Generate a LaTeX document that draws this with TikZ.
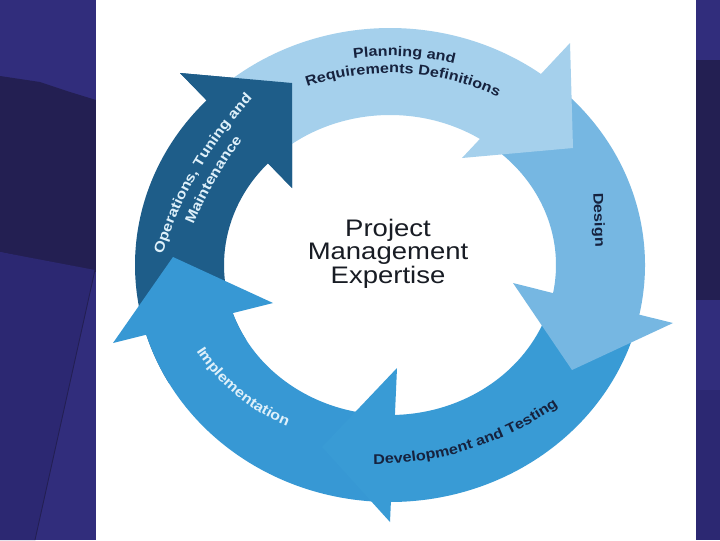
\documentclass[tikz,border=0pt]{standalone}
\usepackage{fontspec}
\setmainfont{Liberation Sans}[FakeStretch=1.15]
\usepackage{tikz}
\usetikzlibrary{calc,decorations.text}

\definecolor{slidebg}{RGB}{49,45,124}
\definecolor{slidedark}{RGB}{35,31,82}
\definecolor{slidelow}{RGB}{44,40,114}
\definecolor{planfill}{RGB}{165,208,236}
\definecolor{designfill}{RGB}{118,183,226}
\definecolor{devfill}{RGB}{57,155,213}
\definecolor{implfill}{RGB}{55,152,212}
\definecolor{opsfill}{RGB}{30,93,137}
\definecolor{lbldark}{RGB}{22,34,62}
\definecolor{lbllight}{RGB}{222,240,250}
\definecolor{titletext}{RGB}{24,28,36}

\newcommand{\lblfont}{\fontsize{10}{12}\selectfont\bfseries}

\begin{document}
\begin{tikzpicture}[x=0.025cm, y=0.025cm,
  curvedlabel/.style n args={2}{decorate,
    decoration={text along path, text align=center, text color=#1, text={|\lblfont|#2}}},
  title/.style={align=center, text=titletext, inner sep=0pt,
    font=\fontsize{17}{16.7}\selectfont}]
\useasboundingbox (0,0) rectangle (720,-540);

% Slide background
\fill[slidebg] (0,0) rectangle (720,-540);
\fill[slidedark] (0,-76) -- (40,-82) -- (70,-92) -- (96,-100) -- (96,-272) -- (0,-252) -- cycle;
\fill[slidelow] (0,-252) -- (95,-270) -- (35,-540) -- (0,-540) -- cycle;
\draw[slidedark, line width=0.6pt] (95,-270) -- (35,-540);
\fill[slidedark] (696,-60) rectangle (720,-300);
\fill[slidelow] (696,-390) rectangle (720,-540);

% White panel
\fill[white] (96,0) rectangle (696,-540);

% Ring centre
\coordinate (ctr) at (390,-265);

% Operations, Tuning and Maintenance
\fill[opsfill] ($(ctr)+(210:255 and 237)$) arc[start angle=210, end angle=136, x radius=255, y radius=237]
  -- (180,-73) -- (292,-83) -- (292,-188)
  -- ($(ctr)+(137.3:166 and 150)$) arc[start angle=137.3, end angle=210, x radius=166, y radius=150] -- cycle;

% Implementation
\fill[implfill] ($(ctr)+(267:255 and 237)$) arc[start angle=267, end angle=197.1, x radius=255, y radius=237]
  -- (113,-343) -- (173,-257) -- (273,-303)
  -- ($(ctr)+(198.7:166 and 150)$) arc[start angle=198.7, end angle=267, x radius=166, y radius=150] -- cycle;

% Development and Testing
\fill[devfill] ($(ctr)+(346:255 and 237)$) arc[start angle=346, end angle=270.2, x radius=255, y radius=237]
  -- (390,-522) -- (322,-447) -- (397,-368)
  -- ($(ctr)+(271.7:166 and 150)$) arc[start angle=271.7, end angle=346, x radius=166, y radius=150] -- cycle;

% Design
\fill[designfill] ($(ctr)+(49:255 and 237)$) arc[start angle=49, end angle=-12.1, x radius=255, y radius=237]
  -- (673,-323) -- (572,-370) -- (513,-283)
  -- ($(ctr)+(-10.8:166 and 150)$) arc[start angle=-10.8, end angle=49, x radius=166, y radius=150] -- cycle;

% Planning and Requirements Definitions
\fill[planfill] ($(ctr)+(131:255 and 237)$) arc[start angle=131, end angle=53.7, x radius=255, y radius=237]
  -- (570,-43) -- (573,-148) -- (462,-158)
  -- ($(ctr)+(57.2:166 and 150)$) arc[start angle=57.2, end angle=131, x radius=166, y radius=150] -- cycle;

% Operations head over the planning tail
\fill[opsfill] (180,-73) -- (292,-83) -- (292,-188) -- cycle;

% Arrow labels
\path[curvedlabel={lbldark}{Planning and}]
  ($(390,-330)+(130:274)$) arc[start angle=130, end angle=44, radius=274];
\path[curvedlabel={lbldark}{Requirements Definitions}]
  ($(390,-330)+(130:257)$) arc[start angle=130, end angle=44, radius=257];
\node[rotate=-88, text=lbldark, font=\lblfont, inner sep=0pt] (design) at (598,-220) {Design};
\path[curvedlabel={lbldark}{Development and Testing}]
  ($(375,-147)+(-110:317)$) arc[start angle=-110, end angle=-35, radius=317];
\path[curvedlabel={lbllight}{Implementation}]
  ($(360,-245)+(195:195)$) arc[start angle=195, end angle=266, radius=195];
\path[curvedlabel={lbllight}{Operations, Tuning and}]
  ($(546,-372)+(175:401)$) arc[start angle=175, end angle=125, radius=401];
\path[curvedlabel={lbllight}{Maintenance}]
  ($(546,-372)+(175:382)$) arc[start angle=175, end angle=125, radius=382];

% Centre text
\node[title] (pm) at (388,-253.5) {Project\\Management\\Expertise};
\end{tikzpicture}
\end{document}
